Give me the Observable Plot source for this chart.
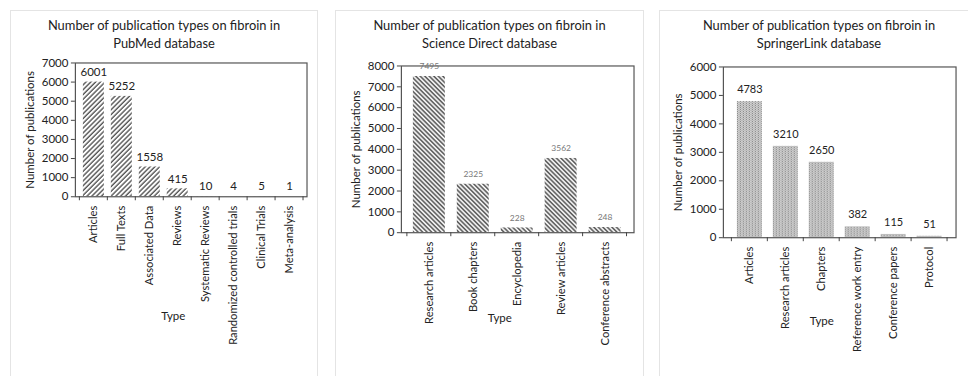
<!DOCTYPE html>
<html>
<head>
<meta charset="utf-8">
<script src="https://cdn.jsdelivr.net/npm/d3@7"></script>
<script src="https://cdn.jsdelivr.net/npm/@observablehq/plot@0.6"></script>
<style>
  html, body { margin: 0; padding: 0; background: #fff; }
  body { width: 968px; height: 376px; position: relative; overflow: hidden; font-family: Lato, "Open Sans", sans-serif; }
  .card { position: absolute; top: 10px; height: 400px; border: 1.5px solid #e4e4e4; box-sizing: border-box; background: #fff; }
  .title { position: absolute; left: 0; right: 0; top: 5px; text-align: center; font-size: 12.9px; line-height: 18px; color: #222; }
  .plotwrap { position: absolute; left: 0; top: 40px; }
</style>
</head>
<body>
<div id="root"></div>
<script>
// ---- Data ----
const pubmedTypes = ["Articles", "Full Texts", "Associated Data", "Reviews", "Systematic Reviews", "Randomized controlled trials", "Clinical Trials", "Meta-analysis"];
const pubmedCounts = [6001, 5252, 1558, 415, 10, 4, 5, 1];
const pubmedTicks = [0, 1000, 2000, 3000, 4000, 5000, 6000, 7000];

const sdTypes = ["Research articles", "Book chapters", "Encyclopedia", "Review articles", "Conference abstracts"];
const sdCounts = [7495, 2325, 228, 3562, 248];
const sdTicks = [0, 1000, 2000, 3000, 4000, 5000, 6000, 7000, 8000];

const slTypes = ["Articles", "Research articles", "Chapters", "Reference work entry", "Conference papers", "Protocol"];
const slCounts = [4783, 3210, 2650, 382, 115, 51];
const slTicks = [0, 1000, 2000, 3000, 4000, 5000, 6000];

const titles = [
  ["Number of publication types on fibroin in", "PubMed database"],
  ["Number of publication types on fibroin in", "Science Direct database"],
  ["Number of publication types on fibroin in", "SpringerLink database"]
];

// ---- Layout per panel ----
const panels = [
  {types: pubmedTypes, counts: pubmedCounts, ticks: pubmedTicks, title: titles[0],
   left: 10, width: 308, mL: 65, mR: 11, mT: 11.5, frameBottom: 145.5, padding: 0.25,
   fill: "url(#pat0)", labelSize: 11.5, labelColor: "#222", labelDy: -10, typeDy: 123},
  {types: sdTypes, counts: sdCounts, ticks: sdTicks, title: titles[1],
   left: 335, width: 309, mL: 66, mR: 10, mT: 14.5, frameBottom: 181.5, padding: 0.27,
   fill: "url(#pat1)", labelSize: 8.5, labelColor: "#777", labelDy: -10, typeDy: 89},
  {types: slTypes, counts: slCounts, ticks: slTicks, title: titles[2],
   left: 659, width: 320, mL: 64, mR: 23, mT: 15.5, frameBottom: 186.5, padding: 0.3,
   fill: "url(#pat2)", labelSize: 11, labelColor: "#222", labelDy: -12, typeDy: 87}
];

const root = document.getElementById("root");
const svgH = 330;

panels.forEach((p, i) => {
  const card = document.createElement("div");
  card.className = "card";
  card.style.left = p.left + "px";
  card.style.width = p.width + "px";
  const t = document.createElement("div");
  t.className = "title";
  t.innerHTML = p.title.join("<br>");
  card.appendChild(t);

  const data = p.types.map((type, k) => ({type, value: p.counts[k]}));
  const mB = svgH - p.frameBottom;
  const n = p.types.length;

  // boundary ticks between categories, derived from the band scale
  const boundaryTicks = (index, scales, values, dims) => {
    const g = d3.create("svg:g").attr("stroke", "#444").attr("stroke-width", 1);
    const x = scales.x;
    const bw = x.bandwidth ? x.bandwidth() : 0;
    const step = x.step ? x.step() : bw / (1 - p.padding);
    const y0 = dims.height - dims.marginBottom;
    const xs = [];
    p.types.forEach((c) => { xs.push(x(c) + bw / 2 - step / 2); });
    xs.push(x(p.types[n - 1]) + bw / 2 + step / 2);
    xs.forEach(v => g.append("line").attr("x1", v).attr("x2", v).attr("y1", y0).attr("y2", y0 + 4));
    return g.node();
  };

  const chart = Plot.plot({
    width: p.width,
    height: svgH,
    marginLeft: p.mL,
    marginRight: p.mR,
    marginTop: p.mT,
    marginBottom: mB,
    style: {fontFamily: "Lato, 'Open Sans', sans-serif", fontSize: "11.5px", color: "#222", background: "transparent", overflow: "visible"},
    x: {domain: p.types, padding: p.padding, label: null},
    y: {domain: [0, p.ticks[p.ticks.length - 1]], label: null},
    marks: [
      Plot.barY(data, {x: "type", y: "value", fill: p.fill}),
      Plot.frame({stroke: "#555", strokeWidth: 1.2}),
      Plot.axisY({ticks: p.ticks, tickSize: 4, tickPadding: 3, tickFormat: d => String(d), fontSize: 11.5, stroke: "#444"}),
      Plot.axisX({tickSize: 0, tickPadding: 9, tickRotate: -90, fontSize: 11.2, textAnchor: "end"}),
      boundaryTicks,
      Plot.text(data, {x: "type", y: "value", text: d => String(d.value), dy: p.labelDy, fontSize: p.labelSize, fill: p.labelColor}),
      Plot.text(["Number of publications"], {frameAnchor: "left", textAnchor: "middle", dx: -45, rotate: -90, fontSize: 11.5, fill: "#222"}),
      Plot.text(["Type"], {frameAnchor: "bottom", textAnchor: "middle", dx: -18, dy: p.typeDy, fontSize: 11.5, fill: "#222"})
    ]
  });

  // patterns
  const svg = d3.select(chart.tagName.toLowerCase() === "svg" ? chart : chart.querySelector("svg"));
  const defs = svg.insert("defs", ":first-child");
  if (i === 0) {
    const pat = defs.append("pattern").attr("id", "pat0").attr("patternUnits", "userSpaceOnUse")
      .attr("width", 3.4).attr("height", 3.4).attr("patternTransform", "rotate(45)");
    pat.append("rect").attr("width", 3.4).attr("height", 3.4).attr("fill", "#fff");
    pat.append("line").attr("x1", 1).attr("x2", 1).attr("y1", 0).attr("y2", 3.4).attr("stroke", "#555").attr("stroke-width", 1.4);
  } else if (i === 1) {
    const pat = defs.append("pattern").attr("id", "pat1").attr("patternUnits", "userSpaceOnUse")
      .attr("width", 3.2).attr("height", 3.2).attr("patternTransform", "rotate(-45)");
    pat.append("rect").attr("width", 3.2).attr("height", 3.2).attr("fill", "#fff");
    pat.append("line").attr("x1", 1).attr("x2", 1).attr("y1", 0).attr("y2", 3.2).attr("stroke", "#555").attr("stroke-width", 1.6);
  } else {
    const pat = defs.append("pattern").attr("id", "pat2").attr("patternUnits", "userSpaceOnUse")
      .attr("width", 3).attr("height", 2);
    pat.append("rect").attr("width", 3).attr("height", 2).attr("fill", "#d4d4d4");
    pat.append("rect").attr("x", 0).attr("y", 0).attr("width", 1).attr("height", 1).attr("fill", "#7a7a7a");
    pat.append("rect").attr("x", 1.5).attr("y", 1).attr("width", 1).attr("height", 1).attr("fill", "#9a9a9a");
  }

  const wrap = document.createElement("div");
  wrap.className = "plotwrap";
  wrap.style.left = "-1.5px";
  wrap.appendChild(chart);
  card.appendChild(wrap);
  root.appendChild(card);
});
</script>
</body>
</html>
